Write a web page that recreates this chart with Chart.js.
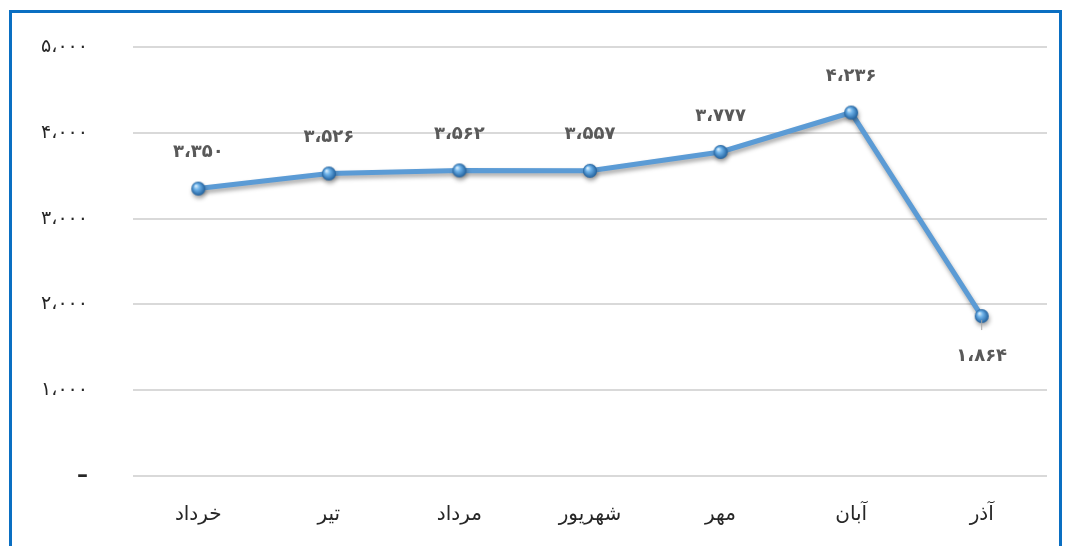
<!DOCTYPE html>
<html>
<head>
<meta charset="utf-8">
<script src="https://cdn.jsdelivr.net/npm/chart.js@4/dist/chart.umd.min.js"></script>
<style>
    html, body { margin: 0; padding: 0; background: #fff; overflow: hidden; }
    #wrap { position: relative; width: 1066px; height: 546px; }
    #frame {
        position: absolute; left: 9px; top: 10px; width: 1047px; height: 600px;
        border: 3px solid #0a6fc2; pointer-events: none;
    }
</style>
</head>
<body>
<div id="wrap">
    <canvas id="lineChart" width="1066" height="546"></canvas>
    <div id="frame"></div>
</div>
<script>
// Chart data
const months = ['خرداد', 'تیر', 'مرداد', 'شهریور', 'مهر', 'آبان', 'آذر'];
const values = [3350, 3526, 3562, 3557, 3777, 4236, 1864];
const yMax = 5000;
const yStep = 1000;

const faDigits = '۰۱۲۳۴۵۶۷۸۹';

// 3350 -> ۳،۳۵۰
function toPersian(n) {
    const s = Math.round(n).toString().replace(/\B(?=(\d{3})+(?!\d))/g, '،');
    return s.replace(/\d/g, d => faDigits[d]);
}

// Sphere marker drawn once on an offscreen canvas
function makeSphere(r) {
    const c = document.createElement('canvas');
    c.width = c.height = r * 2 + 2;
    const g = c.getContext('2d');
    const cx = r + 1, cy = r + 1;
    const grad = g.createRadialGradient(cx - r * 0.35, cy - r * 0.4, 0.5, cx, cy, r);
    grad.addColorStop(0, '#d6ecfb');
    grad.addColorStop(0.35, '#6fb3ea');
    grad.addColorStop(1, '#1f5f9c');
    g.beginPath();
    g.arc(cx, cy, r, 0, Math.PI * 2);
    g.fillStyle = grad;
    g.fill();
    return c;
}

// Shadow under the line
const shadowPlugin = {
    id: 'lineShadow',
    beforeDatasetDraw(chart) {
        const ctx = chart.ctx;
        ctx.save();
        ctx.shadowColor = 'rgba(0, 0, 0, 0.35)';
        ctx.shadowBlur = 4;
        ctx.shadowOffsetX = 1;
        ctx.shadowOffsetY = 3;
    },
    afterDatasetDraw(chart) {
        chart.ctx.restore();
    }
};

// Value labels above the points (the lowest one goes below)
const valueLabels = {
    id: 'valueLabels',
    afterDatasetsDraw(chart) {
        const ctx = chart.ctx;
        const meta = chart.getDatasetMeta(0);
        const lowest = Math.min(...values);
        ctx.save();
        ctx.font = 'bold 18px "DejaVu Sans"';
        ctx.fillStyle = '#595959';
        ctx.textAlign = 'center';
        ctx.textBaseline = 'middle';
        meta.data.forEach((pt, i) => {
            const below = values[i] === lowest;
            if (below) {
                ctx.strokeStyle = '#a6a6a6';
                ctx.lineWidth = 1;
                ctx.beginPath();
                ctx.moveTo(pt.x, pt.y + 4);
                ctx.lineTo(pt.x, pt.y + 14);
                ctx.stroke();
            }
            ctx.fillText(toPersian(values[i]), pt.x, below ? pt.y + 40 : pt.y - 36);
        });
        ctx.restore();
    }
};

const ctx = document.getElementById('lineChart');

new Chart(ctx, {
    type: 'line',
    data: {
        labels: months,
        datasets: [{
            data: values,
            borderColor: '#5b9bd5',
            borderWidth: 5,
            tension: 0,
            pointStyle: makeSphere(7),
            pointRadius: 7,
            clip: false
        }]
    },
    options: {
        responsive: false,
        animation: false,
        events: [],
        layout: {
            padding: { top: 47, right: 19, left: 0, bottom: 0 }
        },
        plugins: {
            legend: { display: false },
            tooltip: { enabled: false }
        },
        scales: {
            x: {
                offset: true,
                grid: { display: false, drawTicks: false },
                border: { display: false },
                afterFit: axis => { axis.height = 70; },
                ticks: {
                    color: '#262626',
                    padding: 27,
                    font: { family: 'DejaVu Sans', size: 20 }
                }
            },
            y: {
                min: 0,
                max: yMax,
                afterFit: axis => {
                    axis.width = 133;
                    axis.paddingTop = 0;
                    axis.paddingBottom = 0;
                },
                grid: {
                    color: '#d9d9d9',
                    lineWidth: 2,
                    drawTicks: false
                },
                border: { display: false },
                ticks: {
                    stepSize: yStep,
                    padding: 45,
                    color: '#262626',
                    font: c => c.tick && c.tick.value === 0
                        ? { family: 'DejaVu Sans', size: 22, weight: 'bold' }
                        : { family: 'DejaVu Sans', size: 19 },
                    callback: v => v === 0 ? '–' : toPersian(v)
                }
            }
        }
    },
    plugins: [shadowPlugin, valueLabels]
});
</script>
</body>
</html>
